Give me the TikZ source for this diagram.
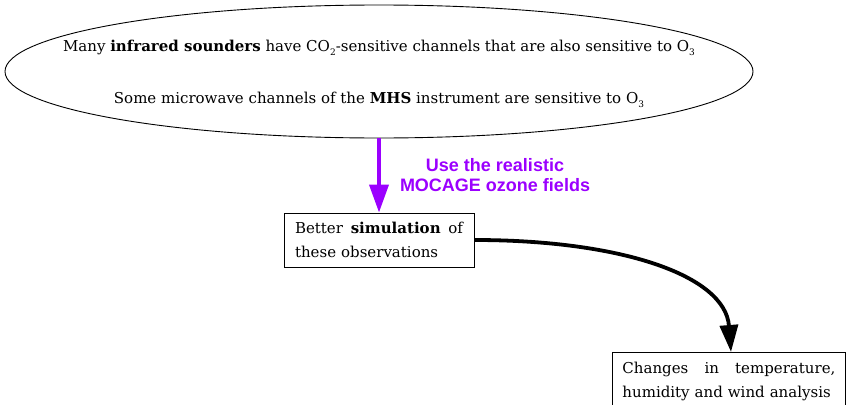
\documentclass[tikz,border=0pt]{standalone}
\usepackage{fontspec}
\setmainfont{DejaVu Serif}
\newfontfamily\labelfont{Liberation Sans}
\usetikzlibrary{arrows.meta,shapes.geometric}
\definecolor{violetarrow}{HTML}{9B00FF}
\newcommand{\sub}[1]{\raisebox{-0.45ex}{\fontsize{9}{9}\selectfont #1}}
\tikzset{
  textbox/.style={draw, line width=0.9pt, fill=white, inner sep=0pt, align=left, font=\fontsize{15}{23.5}\selectfont},
  flowtext/.style={font=\fontsize{15}{18}\selectfont, inner sep=0pt},
}
\begin{document}
\begin{tikzpicture}[x=1pt, y=-1pt]
  \useasboundingbox (0,0) rectangle (850,404);
  % sources of O3-sensitive radiances
  \node[ellipse, draw, line width=0.9pt, minimum width=748pt, minimum height=133pt, inner sep=0pt] (src) at (379,71.5) {};
  \node[flowtext] (ir) at (379,48) {Many \textbf{infrared sounders} have CO\sub{2}-sensitive channels that are also sensitive to O\sub{3}};
  \node[flowtext] (mw) at (379,100) {Some microwave channels of the \textbf{MHS} instrument are sensitive to O\sub{3}};
  % simulation box
  \node[textbox, minimum width=190pt, minimum height=54pt, text width=168pt] (sim) at (379,240)
    {Better \hfill \textbf{simulation} \hfill of\\these observations};
  % analysis box, running past the lower edge
  \node[textbox, anchor=north west, minimum width=233pt, minimum height=62pt, text width=213pt] (ana) at (612,352)
    {\rule{0pt}{16pt}Changes \hfill in \hfill temperature,\\humidity and wind analysis\rule[-12pt]{0pt}{12pt}};
  % ozone forcing arrow
  \draw[violetarrow, line width=3.8pt, -{Triangle[length=28pt, width=19pt]}] (src.south) -- (sim.north);
  \node[text=violetarrow, align=center, inner sep=0pt, font=\labelfont\bfseries\fontsize{18}{20}\selectfont] (lbl) at (495,175) {Use the realistic\\MOCAGE ozone fields};
  % impact on the analysis
  \coordinate (tip) at (731,352);
  \draw[line width=3.8pt, -{Triangle[length=27pt, width=18pt]}] (sim.east) .. controls (620,240) and (725,275) .. (tip);
\end{tikzpicture}
\end{document}
